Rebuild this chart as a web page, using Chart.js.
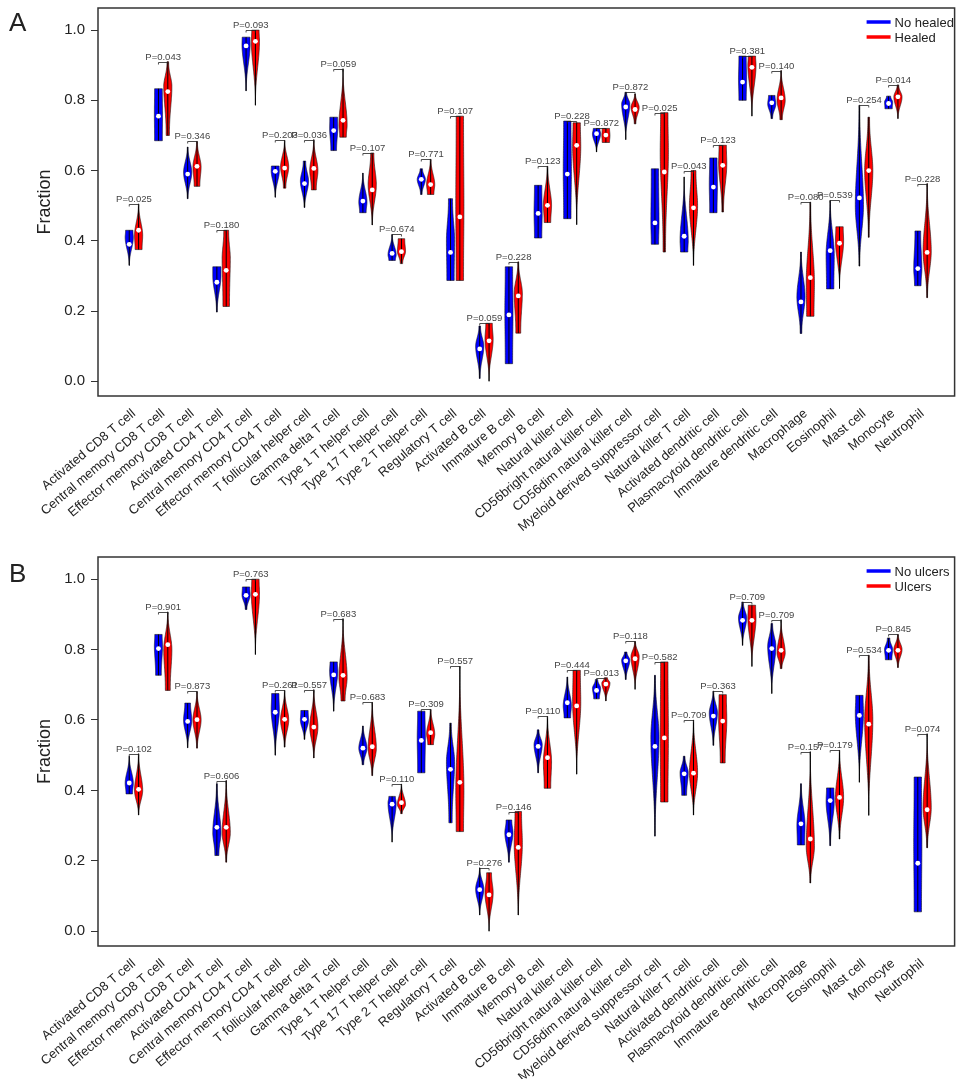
<!DOCTYPE html>
<html>
<head>
<meta charset="utf-8">
<script src="https://cdn.jsdelivr.net/npm/chart.js@4.4.1/dist/chart.umd.min.js"></script>
<style>
  html, body { margin: 0; padding: 0; background: #fff; }
  canvas { display: block; }
</style>
</head>
<body>
<canvas id="chartA" width="957" height="549"></canvas>
<canvas id="chartB" width="957" height="530"></canvas>
<script>
const cellTypes = [
  'Activated CD8 T cell', 'Central memory CD8 T cell', 'Effector memory CD8 T cell',
  'Activated CD4 T cell', 'Central memory CD4 T cell', 'Effector memory CD4 T cell',
  'T follicular helper cell', 'Gamma delta T cell', 'Type 1 T helper cell',
  'Type 17 T helper cell', 'Type 2 T helper cell', 'Regulatory T cell',
  'Activated B cell', 'Immature B cell', 'Memory B cell', 'Natural killer cell',
  'CD56bright natural killer cell', 'CD56dim natural killer cell',
  'Myeloid derived suppressor cell', 'Natural killer T cell', 'Activated dendritic cell',
  'Plasmacytoid dendritic cell', 'Immature dendritic cell', 'Macrophage',
  'Eosinophil', 'Mast cell', 'Monocyte', 'Neutrophil'
];
const yTicks = [0.0, 0.2, 0.4, 0.6, 0.8, 1.0];

// each violin: [min, max, median, widest value, width at bottom, width at top]
const noHealed = [
  [0.33, 0.43, 0.39, 0.41, 0.05, 0.9], [0.685, 0.833, 0.755, 0.76, 0.95, 0.95],
  [0.52, 0.667, 0.59, 0.595, 0.1, 0.1], [0.197, 0.326, 0.282, 0.30, 0.1, 1],
  [0.827, 0.98, 0.955, 0.96, 0.05, 0.95], [0.524, 0.613, 0.598, 0.60, 0.05, 0.95],
  [0.495, 0.627, 0.563, 0.57, 0.1, 0.3], [0.657, 0.752, 0.714, 0.72, 0.7, 0.95],
  [0.48, 0.593, 0.513, 0.51, 0.8, 0.05], [0.344, 0.418, 0.364, 0.36, 0.8, 0.05],
  [0.532, 0.605, 0.575, 0.575, 0.2, 0.3], [0.287, 0.52, 0.367, 0.40, 0.9, 0.5],
  [0.008, 0.157, 0.092, 0.10, 0.1, 0.2], [0.05, 0.326, 0.189, 0.20, 0.9, 0.9],
  [0.408, 0.558, 0.478, 0.48, 0.9, 0.9], [0.463, 0.741, 0.59, 0.60, 0.9, 0.9],
  [0.653, 0.72, 0.705, 0.705, 0.05, 0.8], [0.688, 0.823, 0.781, 0.79, 0.0, 0.2],
  [0.39, 0.605, 0.451, 0.45, 0.9, 0.9], [0.368, 0.582, 0.413, 0.40, 0.9, 0.0],
  [0.48, 0.636, 0.553, 0.56, 0.9, 0.9], [0.80, 0.926, 0.852, 0.86, 0.9, 0.9],
  [0.748, 0.814, 0.793, 0.79, 0.2, 0.8], [0.136, 0.368, 0.226, 0.24, 0.2, 0.1],
  [0.263, 0.515, 0.372, 0.36, 0.9, 0.05], [0.328, 0.786, 0.522, 0.50, 0.1, 0.1],
  [0.776, 0.812, 0.791, 0.795, 0.9, 0.5], [0.272, 0.428, 0.321, 0.32, 0.8, 0.7]
];
const healed = [
  [0.375, 0.505, 0.43, 0.415, 0.85, 0.05], [0.70, 0.91, 0.825, 0.84, 0.4, 0.2],
  [0.555, 0.683, 0.612, 0.61, 0.7, 0.1], [0.213, 0.43, 0.316, 0.35, 0.8, 0.6],
  [0.786, 1.0, 0.968, 0.97, 0.0, 0.9], [0.55, 0.686, 0.607, 0.61, 0.3, 0.05],
  [0.545, 0.688, 0.606, 0.60, 0.6, 0.05], [0.695, 0.89, 0.743, 0.73, 0.8, 0.0],
  [0.445, 0.65, 0.545, 0.56, 0.05, 0.4], [0.335, 0.406, 0.369, 0.37, 0.3, 0.8],
  [0.532, 0.632, 0.56, 0.56, 0.8, 0.1], [0.287, 0.755, 0.468, 0.50, 0.9, 0.9],
  [0.0, 0.165, 0.115, 0.12, 0.0, 0.8], [0.137, 0.34, 0.243, 0.25, 0.6, 0.1],
  [0.452, 0.612, 0.501, 0.50, 0.8, 0.1], [0.446, 0.736, 0.672, 0.67, 0.0, 0.9],
  [0.68, 0.72, 0.701, 0.70, 0.9, 0.9], [0.733, 0.818, 0.774, 0.78, 0.2, 0.1],
  [0.368, 0.765, 0.596, 0.65, 0.3, 0.9], [0.33, 0.60, 0.494, 0.50, 0.05, 0.6],
  [0.482, 0.672, 0.615, 0.62, 0.2, 0.9], [0.755, 0.926, 0.894, 0.90, 0.0, 0.9],
  [0.745, 0.885, 0.807, 0.80, 0.3, 0.05], [0.185, 0.51, 0.295, 0.28, 0.9, 0.1],
  [0.264, 0.44, 0.393, 0.40, 0.0, 0.9], [0.41, 0.752, 0.60, 0.60, 0.1, 0.2],
  [0.748, 0.844, 0.81, 0.81, 0.05, 0.2], [0.238, 0.563, 0.367, 0.37, 0.1, 0.05]
];
const pHealed = ['0.025', '0.043', '0.346', '0.180', '0.093', '0.203', '0.036', '0.059',
  '0.107', '0.674', '0.771', '0.107', '0.059', '0.228', '0.123', '0.228', '0.872', '0.872',
  '0.025', '0.043', '0.123', '0.381', '0.140', '0.080', '0.539', '0.254', '0.014', '0.228'];

const noUlcers = [
  [0.39, 0.497, 0.421, 0.42, 0.8, 0.05], [0.727, 0.843, 0.803, 0.81, 0.7, 0.9],
  [0.521, 0.648, 0.596, 0.60, 0.05, 0.7], [0.215, 0.419, 0.295, 0.28, 0.5, 0.1],
  [0.914, 0.978, 0.954, 0.955, 0.2, 0.9], [0.50, 0.675, 0.622, 0.63, 0.05, 0.9],
  [0.545, 0.627, 0.602, 0.60, 0.1, 0.9], [0.625, 0.765, 0.728, 0.74, 0.05, 0.9],
  [0.473, 0.583, 0.52, 0.52, 0.2, 0.1], [0.253, 0.383, 0.361, 0.365, 0.0, 0.8],
  [0.45, 0.625, 0.542, 0.55, 0.9, 0.9], [0.308, 0.591, 0.46, 0.48, 0.4, 0.2],
  [0.046, 0.18, 0.118, 0.12, 0.05, 0.05], [0.196, 0.316, 0.274, 0.28, 0.1, 0.7],
  [0.45, 0.572, 0.525, 0.53, 0.1, 0.2], [0.606, 0.722, 0.649, 0.64, 0.8, 0.1],
  [0.66, 0.715, 0.684, 0.69, 0.7, 0.3], [0.715, 0.793, 0.768, 0.77, 0.1, 0.3],
  [0.27, 0.727, 0.525, 0.55, 0.05, 0.1], [0.386, 0.497, 0.447, 0.45, 0.6, 0.2],
  [0.528, 0.682, 0.611, 0.62, 0.1, 0.1], [0.812, 0.935, 0.883, 0.89, 0.05, 0.2],
  [0.675, 0.874, 0.803, 0.81, 0.0, 0.2], [0.245, 0.419, 0.305, 0.30, 0.9, 0.1],
  [0.243, 0.407, 0.371, 0.37, 0.1, 0.9], [0.423, 0.67, 0.613, 0.62, 0.0, 0.9],
  [0.771, 0.833, 0.798, 0.80, 0.8, 0.3], [0.055, 0.438, 0.193, 0.25, 0.9, 0.9]
];
const ulcers = [
  [0.33, 0.504, 0.403, 0.40, 0.05, 0.05], [0.684, 0.907, 0.814, 0.80, 0.6, 0.05],
  [0.52, 0.681, 0.601, 0.60, 0.1, 0.05], [0.196, 0.428, 0.295, 0.28, 0.1, 0.05],
  [0.786, 1.0, 0.957, 0.96, 0.0, 0.9], [0.523, 0.684, 0.602, 0.60, 0.1, 0.05],
  [0.492, 0.686, 0.58, 0.58, 0.05, 0.05], [0.654, 0.888, 0.727, 0.72, 0.5, 0.0],
  [0.442, 0.65, 0.524, 0.52, 0.1, 0.05], [0.334, 0.418, 0.365, 0.36, 0.2, 0.05],
  [0.53, 0.63, 0.564, 0.56, 0.7, 0.1], [0.283, 0.753, 0.423, 0.40, 0.9, 0.0],
  [0.0, 0.166, 0.103, 0.11, 0.0, 0.6], [0.046, 0.34, 0.238, 0.25, 0.05, 0.8],
  [0.406, 0.61, 0.493, 0.48, 0.8, 0.05], [0.446, 0.741, 0.64, 0.65, 0.0, 0.9],
  [0.654, 0.72, 0.702, 0.705, 0.05, 0.4], [0.687, 0.823, 0.774, 0.78, 0.0, 0.1],
  [0.367, 0.765, 0.549, 0.55, 0.9, 0.9], [0.33, 0.60, 0.449, 0.45, 0.05, 0.05],
  [0.478, 0.672, 0.597, 0.60, 0.6, 0.9], [0.752, 0.926, 0.883, 0.89, 0.0, 0.9],
  [0.746, 0.885, 0.798, 0.79, 0.2, 0.0], [0.137, 0.51, 0.262, 0.24, 0.1, 0.0],
  [0.262, 0.514, 0.38, 0.38, 0.1, 0.05], [0.329, 0.784, 0.588, 0.60, 0.0, 0.1],
  [0.749, 0.843, 0.798, 0.80, 0.1, 0.1], [0.237, 0.561, 0.345, 0.35, 0.1, 0.0]
];
const pUlcers = ['0.102', '0.901', '0.873', '0.606', '0.763', '0.261', '0.557', '0.683',
  '0.683', '0.110', '0.309', '0.557', '0.276', '0.146', '0.110', '0.444', '0.013', '0.118',
  '0.582', '0.709', '0.363', '0.709', '0.709', '0.157', '0.179', '0.534', '0.845', '0.074'];

const SHIFT = 0.16;   // blue left, red right of the category
const HALF = 0.14;    // max half width of a violin, in category units
const FONT = '"Liberation Sans", Arial, Helvetica, sans-serif';
Chart.defaults.font.family = FONT;

function ease(s) {
  s = Math.min(Math.max(s, 0), 1);
  return Math.pow(s * s * (3 - 2 * s), 1.3);
}

function widthAt(v, val) {
  const [lo, hi, , mode, bw, tw] = v;
  if (val <= mode) {
    const s = mode > lo ? (val - lo) / (mode - lo) : 1;
    return bw + (1 - bw) * ease(s);
  }
  const s = hi > mode ? (hi - val) / (hi - mode) : 1;
  return tw + (1 - tw) * ease(s);
}

function drawViolin(ctx, x, y, pos, v, color) {
  const [lo, hi] = v;
  const cx = x.getPixelForValue(pos);
  const half = x.getPixelForValue(pos + HALF) - cx;
  const n = 60;
  ctx.beginPath();
  for (let k = 0; k <= n; k++) {
    const val = lo + (hi - lo) * k / n;
    const px = cx + half * widthAt(v, val);
    const py = y.getPixelForValue(val);
    if (k === 0) ctx.moveTo(px, py); else ctx.lineTo(px, py);
  }
  for (let k = n; k >= 0; k--) {
    const val = lo + (hi - lo) * k / n;
    ctx.lineTo(cx - half * widthAt(v, val), y.getPixelForValue(val));
  }
  ctx.closePath();
  ctx.fillStyle = color;
  ctx.fill();
  ctx.lineWidth = 0.8;
  ctx.strokeStyle = 'rgba(20,20,20,0.75)';
  ctx.stroke();
  // whisker line through the middle
  ctx.beginPath();
  ctx.moveTo(cx, y.getPixelForValue(lo));
  ctx.lineTo(cx, y.getPixelForValue(hi));
  ctx.lineWidth = 1;
  ctx.strokeStyle = '#000';
  ctx.stroke();
}

const violinPlugin = {
  id: 'violins',
  beforeDatasetsDraw(chart, args, opts) {
    const { ctx, scales: { x, y } } = chart;
    ctx.save();
    opts.blue.forEach((v, i) => drawViolin(ctx, x, y, i - SHIFT, v, '#0000ff'));
    opts.red.forEach((v, i) => drawViolin(ctx, x, y, i + SHIFT, v, '#ff0000'));
    ctx.restore();
  },
  afterDatasetsDraw(chart, args, opts) {
    const { ctx, scales: { x, y }, chartArea: a } = chart;
    ctx.save();
    // P-value brackets
    opts.pvals.forEach((p, i) => {
      const top = Math.max(opts.blue[i][1], opts.red[i][1]);
      const yb = Math.round(y.getPixelForValue(top)) + 0.5;
      const x0 = x.getPixelForValue(i - SHIFT), x1 = x.getPixelForValue(i + SHIFT);
      ctx.beginPath();
      ctx.moveTo(x0, yb + 2);
      ctx.lineTo(x0, yb);
      ctx.lineTo(x1, yb);
      ctx.lineTo(x1, yb + 2);
      ctx.lineWidth = 0.8;
      ctx.strokeStyle = '#222';
      ctx.stroke();
      ctx.fillStyle = '#444';
      ctx.font = '9.5px ' + FONT;
      ctx.textAlign = 'center';
      ctx.textBaseline = 'alphabetic';
      ctx.fillText('P=' + p, x.getPixelForValue(i), yb - 3);
    });
    // legend
    const items = [[opts.names[0], '#0000ff'], [opts.names[1], '#ff0000']];
    items.forEach(([name, col], k) => {
      const ly = a.top + 14 + k * 15;
      ctx.beginPath();
      ctx.moveTo(a.right - 88, ly);
      ctx.lineTo(a.right - 64, ly);
      ctx.lineWidth = 3.5;
      ctx.strokeStyle = col;
      ctx.stroke();
      ctx.fillStyle = '#222';
      ctx.font = '13px ' + FONT;
      ctx.textAlign = 'left';
      ctx.textBaseline = 'middle';
      ctx.fillText(name, a.right - 60, ly + 1);
    });
    // frame
    ctx.lineWidth = 1.5;
    ctx.strokeStyle = '#333';
    ctx.strokeRect(a.left, a.top, a.right - a.left, a.bottom - a.top);
    // panel letter
    ctx.fillStyle = '#222';
    ctx.font = '26px ' + FONT;
    ctx.textAlign = 'left';
    ctx.textBaseline = 'alphabetic';
    ctx.fillText(opts.tag, 9, opts.tagY);
    ctx.restore();
  }
};

function medianSet(rows, shift) {
  return {
    data: rows.map((r, i) => ({ x: i + shift, y: r[2] })),
    pointRadius: 2.4,
    pointHoverRadius: 2.4,
    pointBackgroundColor: '#ffffff',
    pointBorderWidth: 0,
    showLine: false
  };
}

function makeChart(id, blue, red, pvals, names, tag, tagY, xHeight) {
  return new Chart(document.getElementById(id), {
    type: 'scatter',
    data: { datasets: [medianSet(blue, -SHIFT), medianSet(red, SHIFT)] },
    plugins: [violinPlugin],
    options: {
      responsive: false,
      animation: false,
      layout: { padding: { top: 8, right: 2, left: 0, bottom: 0 } },
      plugins: {
        legend: { display: false },
        tooltip: { enabled: false },
        violins: { blue, red, pvals, names, tag, tagY }
      },
      scales: {
        x: {
          type: 'linear',
          min: -1.23,
          max: 28.1,
          afterBuildTicks: s => { s.ticks = cellTypes.map((_, i) => ({ value: i })); },
          afterFit: s => { s.height = xHeight; s.paddingLeft = 0; s.paddingRight = 0; },
          ticks: {
            autoSkip: false,
            minRotation: 40,
            maxRotation: 40,
            padding: 2,
            color: '#222',
            font: { size: 13 },
            callback: v => cellTypes[v]
          },
          grid: { display: false },
          border: { display: false }
        },
        y: {
          min: -0.042,
          max: 1.063,
          afterBuildTicks: s => { s.ticks = yTicks.map(v => ({ value: v })); },
          afterFit: s => { s.width = 98; s.paddingTop = 0; s.paddingBottom = 0; },
          ticks: { color: '#222', font: { size: 15 }, padding: 6, callback: v => v.toFixed(1) },
          grid: { drawOnChartArea: false, tickLength: 7, color: '#333' },
          border: { display: false },
          title: {
            display: true, text: 'Fraction', color: '#222',
            font: { size: 18 }, padding: { top: 34, bottom: 0 }
          }
        }
      }
    }
  });
}

makeChart('chartA', noHealed, healed, pHealed, ['No healed', 'Healed'], 'A', 31, 153);
makeChart('chartB', noUlcers, ulcers, pUlcers, ['No ulcers', 'Ulcers'], 'B', 33, 133);
</script>
</body>
</html>
